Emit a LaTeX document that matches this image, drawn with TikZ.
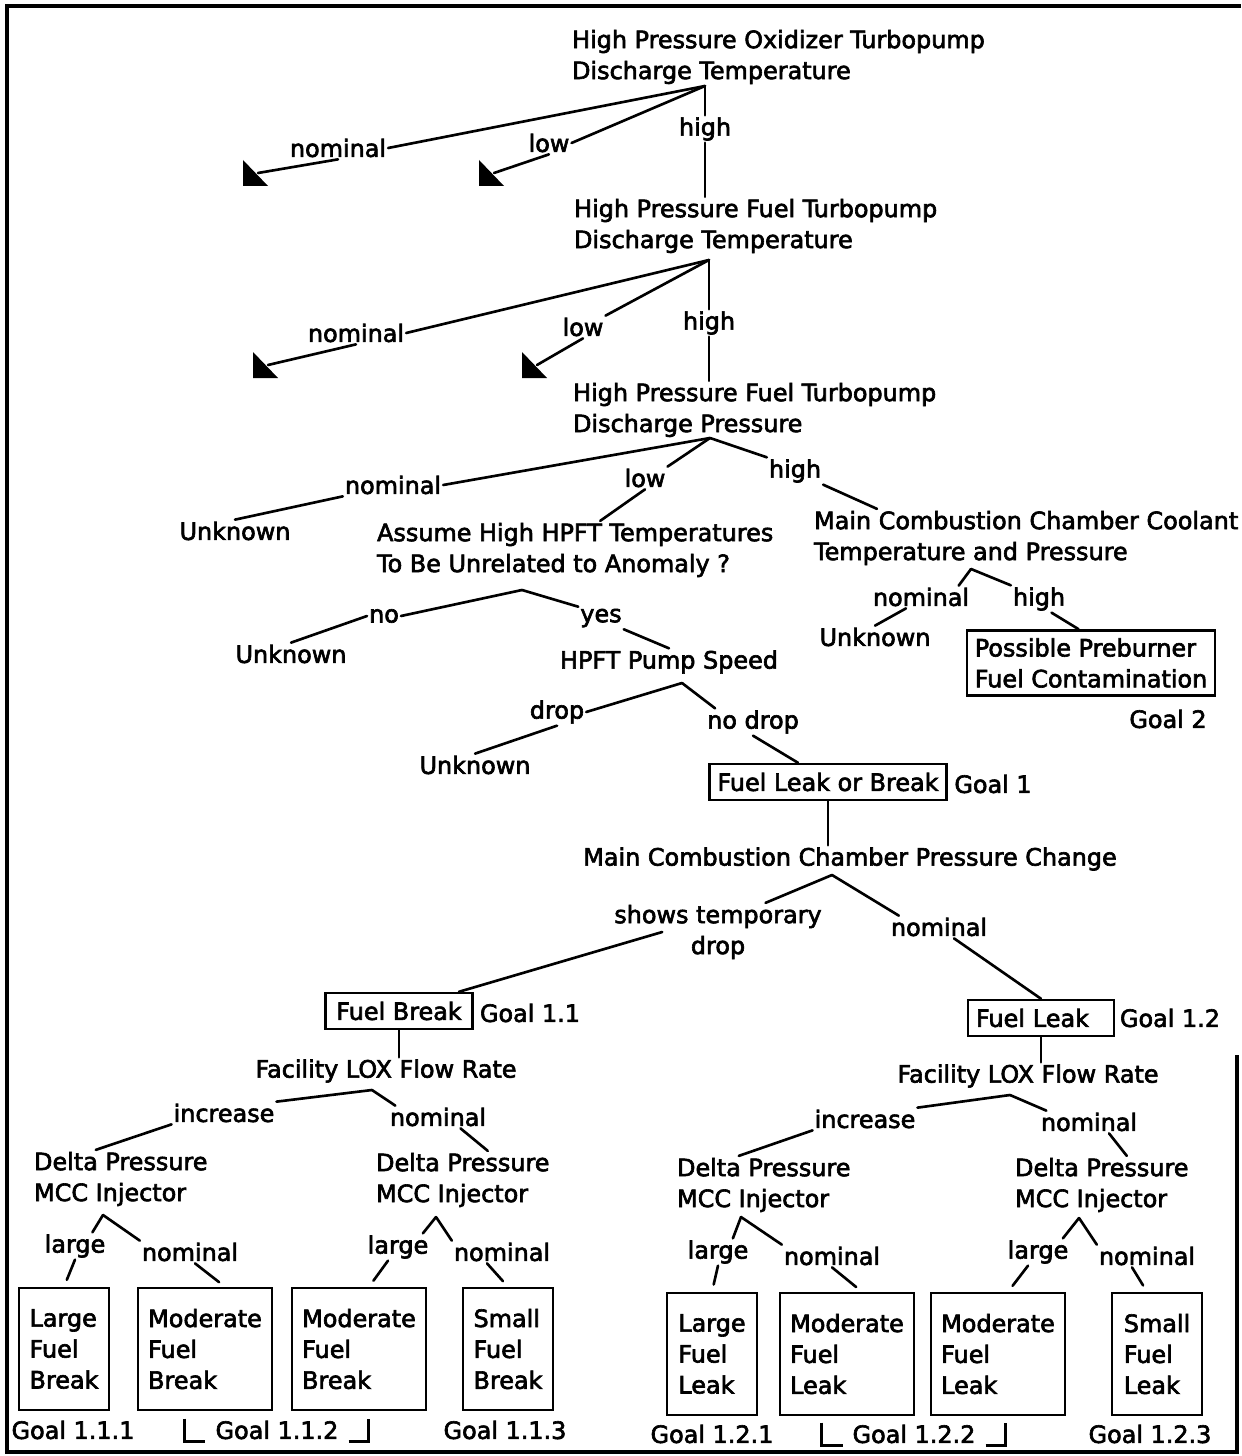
\documentclass[tikz,border=0pt]{standalone}
\usepackage{fontspec}
\setmainfont{DejaVu Sans}[FakeBold=2.6]

\tikzset{
  every node/.style={font=\fontsize{13.6}{17.6}\selectfont},
  txt/.style={inner sep=1pt, align=left},
  lbl/.style={inner sep=1pt},
  goalbox/.style={draw, line width=1.4pt, inner sep=4.5pt, minimum height=0.72cm, align=left},
  leafbox/.style={draw, line width=1.4pt, align=left, inner xsep=0.2cm,
    minimum width=1.8cm, minimum height=2.44cm},
  link/.style={line width=1.5pt, line cap=round},
  stub/.style={link, shorten >=0.15cm},
  deadend/.pic={\fill (-15,-13) -- (-15,13) -- (10,13) -- cycle;}
}

\begin{document}
\begin{tikzpicture}[x=0.02cm, y=-0.02cm]
  \useasboundingbox (0,0) rectangle (1241,1456);
  % Frame
  \draw[line width=2.8pt] (1237,1055) -- (1237,1452) -- (7,1452) -- (7,6) -- (1241,6);

  % Questions
  \node[txt, anchor=west] (q1) at (570,57) {High Pressure Oxidizer Turbopump\\Discharge Temperature};
  \node[txt, anchor=west] (q2) at (572,226) {High Pressure Fuel Turbopump\\Discharge Temperature};
  \node[txt, anchor=west] (q3) at (571,410) {High Pressure Fuel Turbopump\\Discharge Pressure};
  \node[txt, anchor=west] (q4) at (375,550) {Assume High HPFT Temperatures\\To Be Unrelated to Anomaly ?};
  \node[txt, anchor=west] (q5) at (812,538) {Main Combustion Chamber Coolant\\Temperature and Pressure};
  \node[lbl] (q6) at (669,662) {HPFT Pump Speed};
  \node[lbl] (q7) at (850,859) {Main Combustion Chamber Pressure Change};
  \node[lbl] (x1) at (386,1071) {Facility LOX Flow Rate};
  \node[lbl] (x2) at (1028,1076) {Facility LOX Flow Rate};
  \node[txt, anchor=west] (d1) at (32,1179) {Delta Pressure\\MCC Injector};
  \node[txt, anchor=west] (d2) at (374,1180) {Delta Pressure\\MCC Injector};
  \node[txt, anchor=west] (d3) at (675,1185) {Delta Pressure\\MCC Injector};
  \node[txt, anchor=west] (d4) at (1013,1185) {Delta Pressure\\MCC Injector};

  % Unknown ends
  \node[lbl] (u1) at (235,531) {Unknown};
  \node[lbl] (u2) at (291,654) {Unknown};
  \node[lbl] (u3) at (475,765) {Unknown};
  \node[lbl] (u4) at (875,637) {Unknown};

  % Goals
  \node[goalbox] (pc) at (1091,663) {Possible Preburner\\Fuel Contamination};
  \node[goalbox] (g) at (828,782) {Fuel Leak or Break};
  \node[goalbox, minimum width=2.94cm] (fb) at (399,1011) {Fuel Break};
  \node[goalbox, text width=2.6cm] (fl) at (1041,1018) {Fuel Leak};
  \node[leafbox] (k1) at (64,1349) {Large\\Fuel\\Break};
  \node[leafbox] (k2) at (205,1349) {Moderate\\Fuel\\Break};
  \node[leafbox] (k3) at (359,1349) {Moderate\\Fuel\\Break};
  \node[leafbox] (k4) at (508,1349) {Small\\Fuel\\Break};
  \node[leafbox] (k5) at (712,1354) {Large\\Fuel\\Leak};
  \node[leafbox] (k6) at (847,1354) {Moderate\\Fuel\\Leak};
  \node[leafbox] (k7) at (998,1354) {Moderate\\Fuel\\Leak};
  \node[leafbox] (k8) at (1157,1354) {Small\\Fuel\\Leak};

  % Goal names
  \node[lbl] (gl2) at (1168,719) {Goal 2};
  \node[lbl] (gl1) at (993,784) {Goal 1};
  \node[lbl] (gl11) at (530,1013) {Goal 1.1};
  \node[lbl] (gl12) at (1170,1018) {Goal 1.2};
  \node[lbl] (gl111) at (73,1430) {Goal 1.1.1};
  \node[lbl] (gl112) at (277,1430) {Goal 1.1.2};
  \node[lbl] (gl113) at (505,1430) {Goal 1.1.3};
  \node[lbl] (gl121) at (712,1434) {Goal 1.2.1};
  \node[lbl] (gl122) at (914,1434) {Goal 1.2.2};
  \node[lbl] (gl123) at (1150,1434) {Goal 1.2.3};
  \draw[line width=1.3pt] ([xshift=-0.58cm]gl112.north west) |- ([xshift=-0.16cm]gl112.south west);
  \draw[line width=1.3pt] ([xshift=0.16cm]gl112.south east) -| ([xshift=0.56cm]gl112.north east);
  \draw[line width=1.3pt] ([xshift=-0.58cm]gl122.north west) |- ([xshift=-0.16cm]gl122.south west);
  \draw[line width=1.3pt] ([xshift=0.16cm]gl122.south east) -| ([xshift=0.56cm]gl122.north east);

  % Branch labels
  \node[lbl] (n1) at (338,148) {nominal};
  \node[lbl] (l1) at (549,143) {low};
  \node[lbl] (h1) at (705,129) {high};
  \node[lbl] (n2) at (356,333) {nominal};
  \node[lbl] (l2) at (583,327) {low};
  \node[lbl] (h2) at (709,323) {high};
  \node[lbl] (n3) at (393,485) {nominal};
  \node[lbl] (l3) at (645,478) {low};
  \node[lbl] (h3) at (795,471) {high};
  \node[lbl] (no) at (384,616) {no};
  \node[lbl] (ys) at (601,618) {yes};
  \node[lbl] (dp) at (557,712) {drop};
  \node[lbl] (nd) at (753,722) {no drop};
  \node[lbl] (n5) at (921,597) {nominal};
  \node[lbl] (h5) at (1039,599) {high};
  \node[lbl, align=center] (st) at (718,932) {shows temporary\\drop};
  \node[lbl] (n7) at (939,927) {nominal};
  \node[lbl] (i1) at (224,1113) {increase};
  \node[lbl] (n8) at (438,1117) {nominal};
  \node[lbl] (i2) at (865,1119) {increase};
  \node[lbl] (n9) at (1089,1122) {nominal};
  \node[lbl] (e1) at (75,1246) {large};
  \node[lbl] (m1) at (190,1252) {nominal};
  \node[lbl] (e2) at (398,1247) {large};
  \node[lbl] (m2) at (502,1252) {nominal};
  \node[lbl] (e3) at (718,1252) {large};
  \node[lbl] (m3) at (832,1256) {nominal};
  \node[lbl] (e4) at (1038,1252) {large};
  \node[lbl] (m4) at (1147,1256) {nominal};

  % Branch points
  \coordinate (a1) at (705,86);
  \coordinate (a2) at (709,260);
  \coordinate (a3) at (710,438);
  \coordinate (a4) at (522,590);
  \coordinate (a5) at (971,569);
  \coordinate (a6) at (682,683);
  \coordinate (a7) at (832,875);
  \coordinate (a8) at (372,1090);
  \coordinate (a9) at (1010,1095);
  \coordinate (b1) at (103,1215);
  \coordinate (b2) at (436,1217);
  \coordinate (b3) at (741,1217);
  \coordinate (b4) at (1079,1218);
  \coordinate (t1) at (258,173);
  \coordinate (t2) at (494,173);
  \coordinate (t3) at (268,365);
  \coordinate (t4) at (537,365);
  \foreach \t in {t1,t2,t3,t4} \pic at (\t) {deadend};

  % Links
  \draw[link] (a1) -- (n1.east);
  \draw[link] (n1.south) -- (t1);
  \draw[link] (a1) -- (l1.east);
  \draw[link] (l1.south) -- (t2);
  \draw[link] (a1) -- (h1.north);
  \draw[link] (h1.south) -- (h1.south |- q2.north);

  \draw[link] (a2) -- (n2.east);
  \draw[link] (n2.south) -- (t3);
  \draw[link] (a2) -- (l2.north east);
  \draw[link] (l2.south) -- (t4);
  \draw[link] (a2) -- (h2.north);
  \draw[link] (h2.south) -- (h2.south |- q3.north);

  \draw[link] (a3) -- (n3.east);
  \draw[link] (n3.south west) -- (u1.north);
  \draw[link] (a3) -- (l3.north east);
  \draw[link] (l3.south) -- ([xshift=0.5cm]q4.north);
  \draw[link] (a3) -- (h3.north west);
  \draw[link] (h3.south east) -- ([xshift=1.3cm]q5.north west);

  \draw[link] (a4) -- (no.east);
  \draw[link] (no.west) -- (u2.north);
  \draw[link] (a4) -- (ys.north west);
  \draw[link] (ys.south east) -- (q6.north);

  \draw[link] (a5) -- ([xshift=-0.25cm]n5.north east);
  \draw[link] ([xshift=-0.3cm]n5.south) -- (u4.north);
  \draw[link] (a5) -- (h5.north west);
  \draw[link] ([xshift=0.25cm]h5.south) -- ([xshift=-0.25cm]pc.north);

  \draw[link] (a6) -- (dp.east);
  \draw[link] (dp.south) -- (u3.north);
  \draw[link] (a6) -- ([xshift=0.2cm]nd.north west);
  \draw[link] (nd.south) -- ([xshift=-0.6cm]g.north);

  \draw[link] (g.south) -- (g.south |- q7.north);
  \draw[link] (a7) -- ([xshift=0.95cm]st.north);
  \draw[link] ([xshift=1cm]st.west) -- ([xshift=1.2cm]fb.north);
  \draw[link] (a7) -- ([xshift=0.2cm]n7.north west);
  \draw[link] ([xshift=0.3cm]n7.south) -- (fl.north);

  \draw[link] (fb.south) -- (fb.south |- x1.north);
  \draw[link] (a8) -- (i1.north east);
  \draw[link] (i1.south west) -- ([xshift=-0.5cm]d1.north);
  \draw[link] (a8) -- ([xshift=0.15cm]n8.north west);
  \draw[link] ([xshift=0.45cm]n8.south) -- ([xshift=0.5cm]d2.north);

  \draw[link] (fl.south) -- (fl.south |- x2.north);
  \draw[link] (a9) -- (i2.north east);
  \draw[link] (i2.south west) -- ([xshift=-0.5cm]d3.north);
  \draw[link] (a9) -- ([xshift=0.15cm]n9.north west);
  \draw[link] ([xshift=0.4cm]n9.south) -- ([xshift=0.5cm]d4.north);

  \draw[link] (b1) -- ([xshift=-0.3cm]e1.north east);
  \draw[stub] (e1.south) -- (k1.north);
  \draw[link] (b1) -- (m1.north west);
  \draw[stub] ([xshift=0.1cm]m1.south) -- ([xshift=0.4cm]k2.north);

  \draw[link] (b2) -- ([xshift=-0.15cm]e2.north east);
  \draw[stub] ([xshift=-0.2cm]e2.south) -- ([xshift=0.2cm]k3.north);
  \draw[link] (b2) -- (m2.north west);
  \draw[stub] ([xshift=-0.3cm]m2.south) -- (k4.north);

  \draw[link] (b3) -- ([xshift=-0.35cm]e3.north east);
  \draw[stub] (e3.south) -- (k5.north);
  \draw[link] (b3) -- (m3.north west);
  \draw[stub] (m3.south) -- ([xshift=0.3cm]k6.north);

  \draw[link] (b4) -- ([xshift=-0.15cm]e4.north east);
  \draw[stub] ([xshift=-0.2cm]e4.south) -- ([xshift=0.2cm]k7.north);
  \draw[link] (b4) -- (m4.north west);
  \draw[stub] ([xshift=-0.3cm]m4.south) -- ([xshift=-0.2cm]k8.north);
\end{tikzpicture}
\end{document}
